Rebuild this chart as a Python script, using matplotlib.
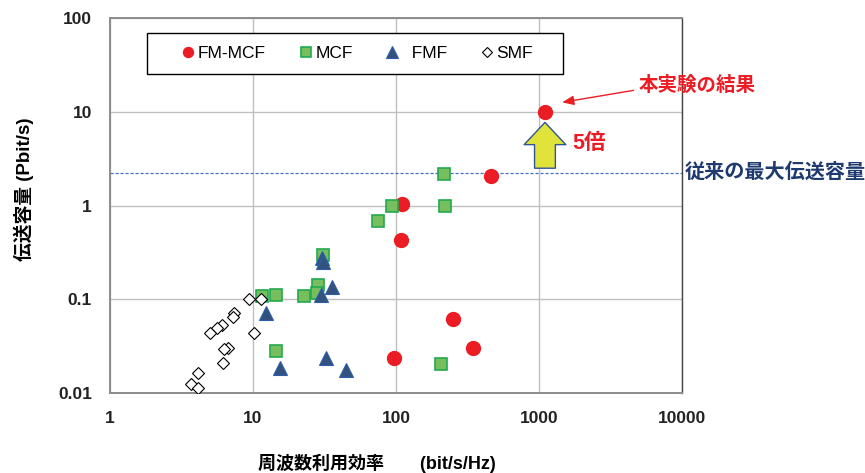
import matplotlib
matplotlib.use("Agg")
import matplotlib.pyplot as plt
from matplotlib.patches import Rectangle
from matplotlib.ticker import FixedLocator, FixedFormatter, NullLocator

plt.rcParams['font.family'] = ['Liberation Sans', 'Noto Sans CJK JP']

# data (x: bit/s/Hz, y: Pbit/s)
fm_mcf_x = [1100, 460, 110, 109, 250, 345, 96]
fm_mcf_y = [10.0, 2.05, 1.05, 0.43, 0.062, 0.030, 0.0235]

mcf_x = [218, 93, 221, 75, 31, 28.6, 28.0, 22.9, 14.4, 11.5, 14.4, 205]
mcf_y = [2.15, 1.0, 1.0, 0.68, 0.30, 0.142, 0.117, 0.109, 0.111, 0.108, 0.028, 0.0202]

fmf_x = [30.2, 31.0, 35.6, 29.7, 12.3, 15.4, 32.6, 44.6]
fmf_y = [0.275, 0.25, 0.134, 0.112, 0.071, 0.0185, 0.0238, 0.0175]

smf_x = [9.3, 11.3, 7.4, 7.2, 6.05, 5.6, 5.0, 10.2, 6.7, 6.3, 6.15, 4.1, 3.7, 4.1]
smf_y = [0.101, 0.101, 0.071, 0.064, 0.053, 0.049, 0.0435, 0.044, 0.0305, 0.0297,
         0.021, 0.0162, 0.0125, 0.0113]

x_ticks = [1, 10, 100, 1000, 10000]
x_labels = ["1", "10", "100", "1000", "10000"]
y_ticks = [0.01, 0.1, 1, 10, 100]
y_labels = ["0.01", "0.1", "1", "10", "100"]

prev_max = 2.25          # previous record capacity (dashed line)
this_result = (1100, 10.0)

red = "#EC1C24"
navy = "#1F3A6E"

fig = plt.figure(figsize=(8.65, 4.73), dpi=100)
ax = fig.add_axes([0.1272, 0.1691, 0.6613, 0.7928])
ax.set_xscale("log")
ax.set_yscale("log")
ax.set_xlim(1, 10000)
ax.set_ylim(0.01, 100)

ax.plot(fm_mcf_x, fm_mcf_y, "o", ms=10, color=red, mec=red, label="FM-MCF", zorder=3)
ax.plot(mcf_x, mcf_y, "s", ms=9.2, color="#76BE5E", mec="#22A94F", mew=1.2, label="MCF", zorder=4)
ax.plot(fmf_x, fmf_y, "^", ms=10, color="#34527E", mec="#2E5DA8", mew=0.8, label="  FMF", zorder=5)
ax.plot(smf_x, smf_y, "D", ms=6.3, color="white", mec="black", mew=0.8, label="SMF", zorder=6)

ax.axhline(prev_max, color="#4472C4", lw=0.9, ls=(0, (2.5, 1.5)), zorder=2)

ax.xaxis.set_major_locator(FixedLocator(x_ticks))
ax.xaxis.set_major_formatter(FixedFormatter(x_labels))
ax.yaxis.set_major_locator(FixedLocator(y_ticks))
ax.yaxis.set_major_formatter(FixedFormatter(y_labels))
ax.xaxis.set_minor_locator(NullLocator())
ax.yaxis.set_minor_locator(NullLocator())
ax.tick_params(axis="both", length=0, labelsize=12.5, colors="#222222")
ax.tick_params(axis="x", pad=13)
ax.tick_params(axis="y", pad=13)
for lab in ax.get_xticklabels() + ax.get_yticklabels():
    lab.set_fontweight("bold")

ax.grid(True, which="major", color="#BFBFBF", lw=1.0)
ax.set_axisbelow(True)
for side in ["left", "bottom", "top"]:
    ax.spines[side].set_color("#8C8C8C")
    ax.spines[side].set_linewidth(1.4)
ax.spines["right"].set_color("#444444")
ax.spines["right"].set_linewidth(1.0)

ax.set_xlabel("周波数利用効率\u3000\u3000(bit/s/Hz)", fontsize=13, fontweight="bold",
              labelpad=20, x=0.467)
ax.set_ylabel("伝送容量 (Pbit/s)", fontsize=13.5, fontweight="bold", labelpad=17, y=0.544)

# legend box drawn as its own frame, entries spread inside it
ax.add_patch(Rectangle((0.0647, 0.8515), 0.727, 0.1095, transform=ax.transAxes,
                       fc="white", ec="black", lw=1.0, zorder=8))
leg = ax.legend(ncol=4, loc="center", bbox_to_anchor=(0.1276, 0.906, 0.612, 0.0),
                mode="expand", frameon=False, borderaxespad=0, borderpad=0,
                fontsize=12.5, handlelength=0.6, handletextpad=0.25, numpoints=1)
leg.set_zorder(9)
for h, ms in zip(leg.legend_handles, [7.2, 7.7, 8.0, 5.1]):
    h.set_markersize(ms)

# red annotation for this experiment
ax.annotate("本実験の結果", xy=(1450, 12.6), xytext=(5000, 19.0),
            fontsize=14, fontweight="bold", color=red, ha="left", va="center",
            annotation_clip=False,
            arrowprops=dict(arrowstyle="-|>,head_length=0.5,head_width=0.2", color=red,
                            lw=1.0, shrinkA=2, shrinkB=0, relpos=(0, 0.3)))

# yellow block arrow from previous record up to this result
ax.annotate("", xy=(this_result[0], 7.7), xytext=(this_result[0], 2.5),
            arrowprops=dict(arrowstyle="simple,head_length=1.6,head_width=3.0,tail_width=1.5",
                            mutation_scale=10, fc="#E1E33B", ec="#2F5597", lw=1.0,
                            shrinkA=0, shrinkB=0), zorder=7)
ax.text(1700, 4.6, "5倍", fontsize=15.5, fontweight="bold", color=red,
        ha="left", va="center")

ax.text(1.005, prev_max, "従来の最大伝送容量", transform=ax.get_yaxis_transform(),
        fontsize=14.5, fontweight="bold", color=navy, ha="left", va="center")

fig.savefig("out.png", dpi=100)
